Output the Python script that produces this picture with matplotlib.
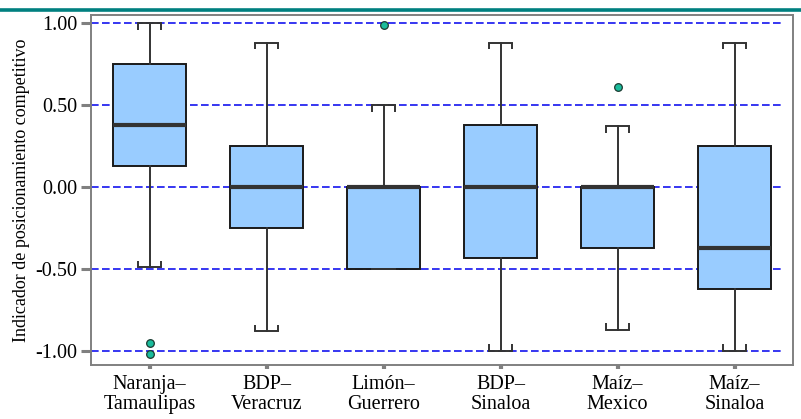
import matplotlib
matplotlib.use("Agg")
import matplotlib.pyplot as plt
from matplotlib.lines import Line2D

# Product–region groups
categories = ["Naranja–\nTamaulipas", "BDP–\nVeracruz", "Limón–\nGuerrero",
              "BDP–\nSinaloa", "Maíz–\nMexico", "Maíz–\nSinaloa"]

# Five-number summaries per group
whisker_low = [-0.49, -0.88, -0.50, -1.00, -0.87, -1.00]
q1 = [0.13, -0.25, -0.50, -0.43, -0.37, -0.62]
median = [0.38, 0.00, 0.00, 0.00, 0.00, -0.37]
q3 = [0.75, 0.25, 0.00, 0.38, 0.00, 0.25]
whisker_high = [1.00, 0.88, 0.50, 0.88, 0.37, 0.88]
outliers = [[-0.95, -1.02], [], [0.99], [], [0.61], []]

y_ticks = [1.00, 0.50, 0.00, -0.50, -1.00]
y_label = "Indicador de posicionamiento competitivo"

plt.rcParams["font.family"] = ["Liberation Serif", "DejaVu Serif"]

fig = plt.figure(figsize=(8.01, 4.19), dpi=100)
ax = fig.add_axes([91 / 801, 54 / 419, 702 / 801, 350 / 419])

stats = []
for i, lab in enumerate(categories):
    stats.append(dict(label=lab, whislo=whisker_low[i], q1=q1[i], med=median[i],
                      q3=q3[i], whishi=whisker_high[i], fliers=outliers[i]))

positions = list(range(len(categories)))
cap_w = 0.2
ax.bxp(stats, positions=positions, widths=0.63, patch_artist=True,
       showcaps=True, capwidths=cap_w,
       boxprops=dict(facecolor="#99ccff", edgecolor="#1a1a1a", linewidth=1.4),
       medianprops=dict(color="#333333", linewidth=3),
       whiskerprops=dict(color="#333333", linewidth=1.4),
       capprops=dict(color="#333333", linewidth=1.4),
       flierprops=dict(marker="o", markerfacecolor="#1abc9c",
                       markeredgecolor="#1a3a30", markersize=5.5,
                       markeredgewidth=0.9),
       zorder=3)

# Bracket ends on the whisker caps, pointing back toward the box
tick_h = 0.04
for p, lo, hi in zip(positions, whisker_low, whisker_high):
    for x in (p - cap_w / 2, p + cap_w / 2):
        ax.vlines(x, hi - tick_h, hi, color="#333333", linewidth=1.4, zorder=3)
        if lo < q1[p]:
            ax.vlines(x, lo, lo + tick_h, color="#333333", linewidth=1.4, zorder=3)

# Dashed reference lines
for y in y_ticks:
    ax.axhline(y, xmin=0, xmax=0.986, color="#0000ee", linewidth=1.1,
               dashes=(5, 2.2), zorder=1)

ax.set_xlim(-0.5, 5.5)
ax.set_ylim(-1.085, 1.049)
ax.set_yticks(y_ticks)
ax.set_yticklabels([f"{v:.2f}" for v in y_ticks], fontsize=14.5)
ax.set_xticks(positions)
ax.set_xticklabels(categories, fontsize=14.5, linespacing=1.12)
ax.tick_params(axis="y", length=7, width=2.2, color="#808080", pad=3)
ax.tick_params(axis="x", length=3, width=3, color="#808080", pad=4)
ax.set_ylabel(y_label, fontsize=13, labelpad=4)

for s in ax.spines.values():
    s.set_color("#808080")
    s.set_linewidth(1.4)

# Teal rule across the top of the figure
fig.add_artist(Line2D([0, 1], [1 - 10 / 419, 1 - 10 / 419], color="#008080",
                      linewidth=2.6, transform=fig.transFigure))

fig.savefig("out.png", dpi=100)
